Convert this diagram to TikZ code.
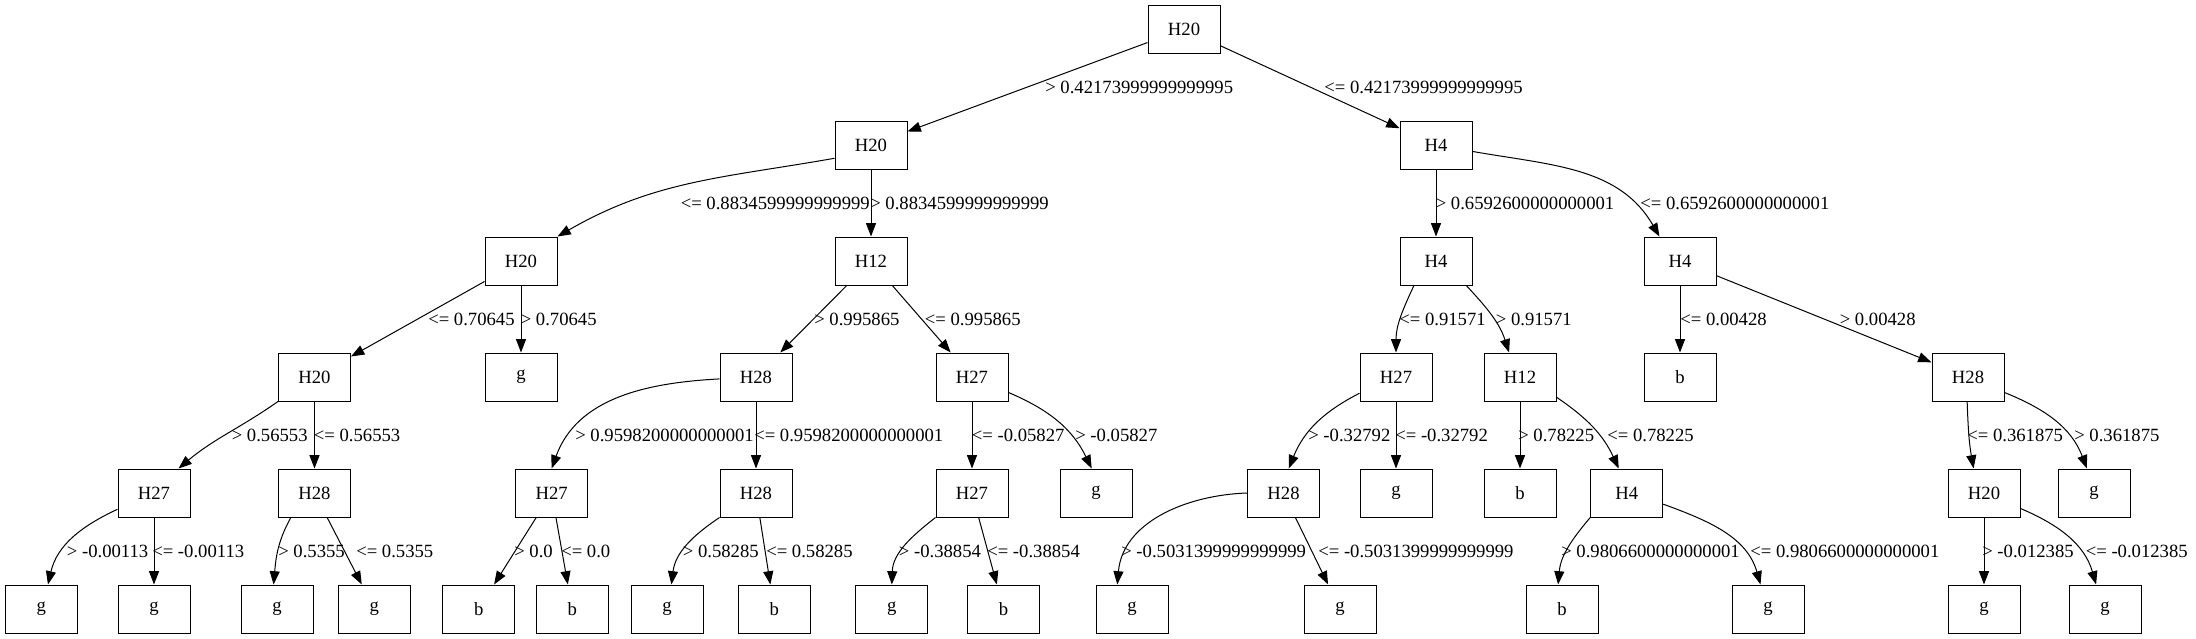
\documentclass[tikz,border=0pt]{standalone}
\usepackage{fontspec}
\setmainfont{Liberation Serif}
\usetikzlibrary{arrows.meta}

\tikzset{
    split/.style={draw,line width=0.75pt,minimum width=54pt,minimum height=36pt,inner sep=0pt},
    leaf/.style={split},
    lbl/.style={anchor=west,inner sep=0pt},
    branch/.style={line width=0.75pt,-{Triangle[length=10pt,width=7.5pt]}}
}

\begin{document}
\begin{tikzpicture}[x=0.75pt,y=0.75pt,font=\fontsize{14}{16}\selectfont]
    \useasboundingbox (0,0) rectangle (2196,-639);

    % levels 0-2
    \node[split] (a0) at (1184,-29) {H20};
    \node[split] (b0) at (871,-145) {H20};
    \node[split] (b1) at (1436,-145) {H4};
    \node[split] (c0) at (521,-261) {H20};
    \node[split] (c1) at (871,-261) {H12};
    \node[split] (c2) at (1436,-261) {H4};
    \node[split] (c3) at (1680,-261) {H4};

    % level 3
    \node[split] (d0) at (314.5,-377) {H20};
    \node[leaf] (d1) at (521,-377) {g};
    \node[split] (d2) at (756,-377) {H28};
    \node[split] (d3) at (972,-377) {H27};
    \node[split] (d4) at (1396,-377) {H27};
    \node[split] (d5) at (1520,-377) {H12};
    \node[leaf] (d6) at (1680,-377) {b};
    \node[split] (d7) at (1968,-377) {H28};

    % level 4
    \node[split] (e0) at (154,-493) {H27};
    \node[split] (e1) at (314.5,-493) {H28};
    \node[split] (e2) at (551.6,-493) {H27};
    \node[split] (e3) at (756,-493) {H28};
    \node[split] (e4) at (972,-493) {H27};
    \node[leaf] (e5) at (1096,-493) {g};
    \node[split] (e6) at (1283.5,-493) {H28};
    \node[leaf] (e7) at (1396,-493) {g};
    \node[leaf] (e8) at (1520,-493) {b};
    \node[split] (e9) at (1626.7,-493) {H4};
    \node[split] (e10) at (1984,-493) {H20};
    \node[leaf] (e11) at (2094,-493) {g};

    % leaves
    \node[leaf] (f0) at (41.4,-609) {g};
    \node[leaf] (f1) at (154,-609) {g};
    \node[leaf] (f2) at (277,-609) {g};
    \node[leaf] (f3) at (374.4,-609) {g};
    \node[leaf] (f4) at (478.7,-609) {b};
    \node[leaf] (f5) at (572.2,-609) {b};
    \node[leaf] (f6) at (667.1,-609) {g};
    \node[leaf] (f7) at (774.2,-609) {b};
    \node[leaf] (f8) at (891.8,-609) {g};
    \node[leaf] (f9) at (1003.5,-609) {b};
    \node[leaf] (f10) at (1132,-609) {g};
    \node[leaf] (f11) at (1340,-609) {g};
    \node[leaf] (f12) at (1562,-609) {b};
    \node[leaf] (f13) at (1768,-609) {g};
    \node[leaf] (f14) at (1984,-609) {g};
    \node[leaf] (f15) at (2105,-609) {g};

    % branches
    \draw[branch] (a0) -- (b0);
    \draw[branch] (a0) -- (b1);
    \draw[branch] (b0.200) to[out=190,in=30] (c0.north east);
    \draw[branch] (b0) -- (c1);
    \draw[branch] (b1) -- (c2);
    \draw[branch] (b1.-10) to[out=-10,in=120] (c3.130);
    \draw[branch] (c0) -- (d0);
    \draw[branch] (c0) -- (d1);
    \draw[branch] (c1) -- (d2);
    \draw[branch] (c1) -- (d3);
    \draw[branch] (c2.-132) to[out=-115,in=90] (d4.north);
    \draw[branch] (c2.-39) to[out=-47,in=108] (d5.114);
    \draw[branch] (c3) -- (d6);
    \draw[branch] (c3) -- (d7);
    \draw[branch] (d0.south west) to[out=-145,in=40] (e0.45);
    \draw[branch] (d0) -- (e1);
    \draw[branch] (d2.183) to[out=183,in=70] (e2.north);
    \draw[branch] (d2) -- (e3);
    \draw[branch] (d3) -- (e4);
    \draw[branch] (d3.-23) to[out=-23,in=116] (e5.100);
    \draw[branch] (d4.204) to[out=207,in=68] (e6.78);
    \draw[branch] (d4) -- (e7);
    \draw[branch] (d5) -- (e8);
    \draw[branch] (d5.-29) to[out=-34,in=115] (e9.108);
    \draw[branch] (d7.268) to[out=-88,in=100] (e10.113);
    \draw[branch] (d7.-23) to[out=-22,in=111] (e11.106);
    \draw[branch] (e0.204) to[out=205,in=77] (f0.75);
    \draw[branch] (e0) -- (f1);
    \draw[branch] (e1.-134) to[out=-119,in=85] (f2.98);
    \draw[branch] (e1) -- (f3);
    \draw[branch] (e2) -- (f4);
    \draw[branch] (e2) -- (f5);
    \draw[branch] (e3.south west) to[out=-146,in=83] (f6.80);
    \draw[branch] (e3) -- (f7);
    \draw[branch] (e4.south west) to[out=-142,in=88] (f8.north);
    \draw[branch] (e4) -- (f9);
    \draw[branch] (e6.west) to[out=182,in=85] (f10.121);
    \draw[branch] (e6) -- (f11);
    \draw[branch] (e9.south west) to[out=-130,in=85] (f12.99);
    \draw[branch] (e9.-17) to[out=-20,in=106] (f13.107);
    \draw[branch] (e10) -- (f14);
    \draw[branch] (e10.-23) to[out=-23,in=106] (f15.110);

    % thresholds
    \node[lbl] (t0) at (1045,-87) {> 0.42173999999999995};
    \node[lbl] (t1) at (1324,-87) {<= 0.42173999999999995};
    \node[lbl] (t2) at (680.5,-203) {<= 0.8834599999999999};
    \node[lbl] (t3) at (870,-203) {> 0.8834599999999999};
    \node[lbl] (t4) at (1435.5,-203) {> 0.6592600000000001};
    \node[lbl] (t5) at (1640,-203) {<= 0.6592600000000001};
    \node[lbl] (t6) at (428,-319) {<= 0.70645};
    \node[lbl] (t7) at (520.5,-319) {> 0.70645};
    \node[lbl] (t8) at (814,-319) {> 0.995865};
    \node[lbl] (t9) at (924.6,-319) {<= 0.995865};
    \node[lbl] (t10) at (1399,-319) {<= 0.91571};
    \node[lbl] (t11) at (1495.6,-319) {> 0.91571};
    \node[lbl] (t12) at (1680,-319) {<= 0.00428};
    \node[lbl] (t13) at (1839.5,-319) {> 0.00428};
    \node[lbl] (t14) at (231.5,-435) {> 0.56553};
    \node[lbl] (t15) at (313.6,-435) {<= 0.56553};
    \node[lbl] (t16) at (575,-435) {> 0.9598200000000001};
    \node[lbl] (t17) at (754,-435) {<= 0.9598200000000001};
    \node[lbl] (t18) at (971.6,-435) {<= -0.05827};
    \node[lbl] (t19) at (1075,-435) {> -0.05827};
    \node[lbl] (t20) at (1308,-435) {> -0.32792};
    \node[lbl] (t21) at (1395,-435) {<= -0.32792};
    \node[lbl] (t22) at (1518,-435) {> 0.78225};
    \node[lbl] (t23) at (1607,-435) {<= 0.78225};
    \node[lbl] (t24) at (1967,-435) {<= 0.361875};
    \node[lbl] (t25) at (2074,-435) {> 0.361875};
    \node[lbl] (t26) at (66.6,-551) {> -0.00113};
    \node[lbl] (t27) at (152,-551) {<= -0.00113};
    \node[lbl] (t28) at (278,-551) {> 0.5355};
    \node[lbl] (t29) at (356,-551) {<= 0.5355};
    \node[lbl] (t30) at (514,-551) {> 0.0};
    \node[lbl] (t31) at (561,-551) {<= 0.0};
    \node[lbl] (t32) at (682.6,-551) {> 0.58285};
    \node[lbl] (t33) at (766,-551) {<= 0.58285};
    \node[lbl] (t34) at (898.6,-551) {> -0.38854};
    \node[lbl] (t35) at (987,-551) {<= -0.38854};
    \node[lbl] (t36) at (1121,-551) {> -0.5031399999999999};
    \node[lbl] (t37) at (1318,-551) {<= -0.5031399999999999};
    \node[lbl] (t38) at (1561,-551) {> 0.9806600000000001};
    \node[lbl] (t39) at (1750,-551) {<= 0.9806600000000001};
    \node[lbl] (t40) at (1982,-551) {> -0.012385};
    \node[lbl] (t41) at (2085.5,-551) {<= -0.012385};
\end{tikzpicture}
\end{document}
